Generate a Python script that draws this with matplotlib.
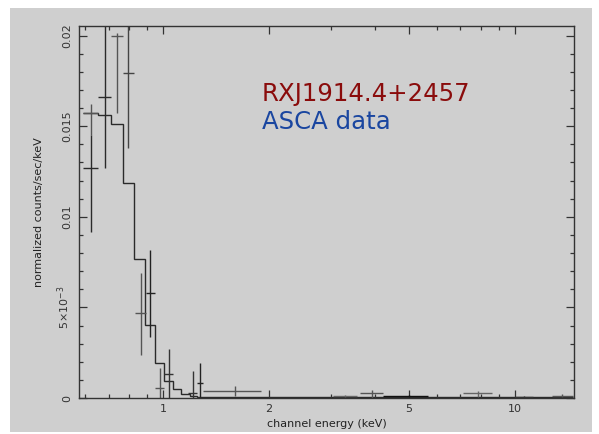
import numpy as np
import matplotlib
matplotlib.use("Agg")
import matplotlib.pyplot as plt
from matplotlib.patches import Rectangle
from matplotlib.ticker import FixedLocator, FixedFormatter, LogLocator, NullFormatter

# model (folded) - step histogram, edges in keV, values in counts/sec/keV
model_edges = [0.5925, 0.6524, 0.7115, 0.7681, 0.8289, 0.8889, 0.9490,
               1.0085, 1.0655, 1.1249, 1.1931, 1.2466, 14.6]
model_vals = [0.01574, 0.01562, 0.01510, 0.01185, 0.00767, 0.00403, 0.00192,
              0.00094, 0.00048, 0.00022, 0.00011, 0.00003]

# data points: energy, bin low/high, rate, error low/high
energy = [0.624, 0.624, 0.682, 0.739, 0.797, 0.864, 0.918, 0.981, 1.040,
          1.214, 1.274, 1.601, 3.29, 3.92, 5.0, 7.85, 10.6, 13.6]
e_low = [0.5925, 0.5925, 0.6524, 0.7115, 0.7681, 0.8327, 0.8929, 0.949, 1.0085,
         1.180, 1.2466, 1.302, 3.04, 3.63, 4.22, 7.12, 10.0, 12.74]
e_high = [0.6524, 0.6524, 0.7115, 0.7681, 0.8289, 0.8929, 0.949, 1.0085, 1.0655,
          1.2466, 1.302, 1.898, 3.56, 4.22, 5.66, 8.61, 11.25, 14.62]
rate = [0.01574, 0.01269, 0.01663, 0.01999, 0.01792, 0.00467, 0.00578, 0.00054,
        0.00131, 0.00029, 0.00081, 0.00039, 0.00010, 0.00028, 0.00010, 0.00025,
        0.00005, 0.00012]
rate_low = [0.01450, 0.00916, 0.01269, 0.01573, 0.01378, 0.00237, 0.00338, 0.0,
            0.0, 0.0, 0.0, 0.00010, 0.00005, 0.0, 0.00006, 0.00008, 0.0, 0.00005]
rate_high = [0.01620, 0.01450, 0.0250, 0.02014, 0.0250, 0.00692, 0.00817, 0.00167,
             0.00270, 0.00151, 0.00195, 0.00066, 0.00016, 0.00044, 0.00014, 0.00040,
             0.00010, 0.00020]
point_col = ['#555555', '#2a2a2a', '#2a2a2a', '#555555', '#444444', '#555555',
             '#222222', '#555555', '#333333', '#333333', '#222222', '#555555',
             '#666666', '#555555', '#111111', '#666666', '#333333', '#555555']

ytick_vals = [0, 0.005, 0.01, 0.015, 0.02]
ytick_text = ['0', r'$5{\times}10^{-3}$', '0.01', '0.015', '0.02']
xtick_vals = [1, 2, 5, 10]
xtick_text = ['1', '2', '5', '10']

bg = '#cfcfcf'
fig = plt.figure(figsize=(5.99, 4.34), dpi=100, facecolor='white')
fig.patches.append(Rectangle((10/599, 2/434), 582/599, 424/434, transform=fig.transFigure,
                             facecolor=bg, edgecolor='none', zorder=-10))
ax = fig.add_axes([79/599, 1 - 398/434, 495/599, 372/434])
ax.set_facecolor(bg)

ax.stairs(model_vals, model_edges, color='#2a2a2a', linewidth=1.0, baseline=None)

for i in range(len(energy)):
    ax.errorbar([energy[i]], [rate[i]],
                xerr=[[energy[i] - e_low[i]], [e_high[i] - energy[i]]],
                yerr=[[rate[i] - rate_low[i]], [rate_high[i] - rate[i]]],
                fmt='none', ecolor=point_col[i], elinewidth=1.0, capsize=0)

ax.set_xscale('log')
ax.set_xlim(0.577, 14.71)
ax.set_ylim(0, 0.02053)

ax.xaxis.set_major_locator(FixedLocator(xtick_vals))
ax.xaxis.set_major_formatter(FixedFormatter(xtick_text))
ax.xaxis.set_minor_locator(LogLocator(base=10, subs=np.arange(2, 10)))
ax.xaxis.set_minor_formatter(NullFormatter())
ax.yaxis.set_major_locator(FixedLocator(ytick_vals))
ax.yaxis.set_major_formatter(FixedFormatter(ytick_text))
ax.yaxis.set_minor_locator(FixedLocator(np.arange(0, 0.0205, 0.001)))

ax.tick_params(which='both', direction='in', top=True, right=True, colors='#333333',
               labelsize=8, width=0.9)
ax.tick_params(which='major', length=6)
ax.tick_params(which='minor', length=3)
ax.tick_params(axis='y', pad=5)
ax.tick_params(axis='x', pad=4)
for lab in ax.get_yticklabels():
    lab.set_rotation(90)
    lab.set_va('center')

for s in ax.spines.values():
    s.set_color('#333333')
    s.set_linewidth(1.0)

ax.set_xlabel('channel energy (keV)', fontsize=8, color='#222222', labelpad=4)
ax.set_ylabel('normalized counts/sec/keV', fontsize=8, color='#222222', labelpad=8)

fig.text(262/599, 1 - 101.5/434, 'RXJ1914.4+2457', color='#8a0c0c', fontsize=17.6,
         va='baseline', ha='left')
fig.text(262/599, 1 - 129/434, 'ASCA data', color='#1a46a0', fontsize=17.6,
         va='baseline', ha='left')

fig.savefig('out.png', dpi=100, facecolor='white')
